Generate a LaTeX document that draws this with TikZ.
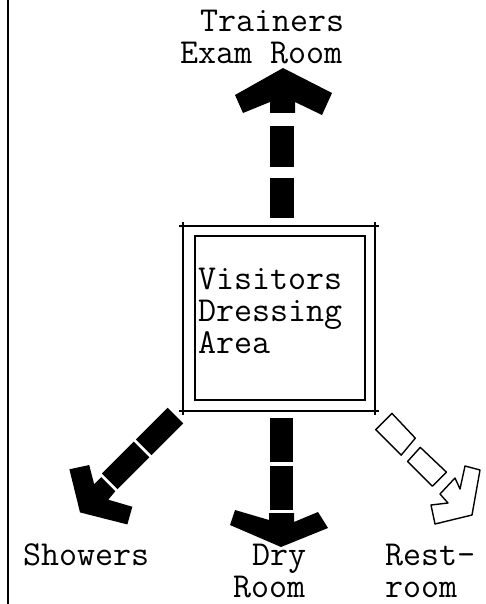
\documentclass[tikz,border=0pt]{standalone}
\usepackage{fontspec}
\begin{document}
\begin{tikzpicture}[x=1pt,y=-1pt,
  lbl/.style={font=\ttfamily\fontsize{35}{32}\selectfont, anchor=base west, inner sep=0pt, outer sep=0pt},
  solidarrow/.style={fill=black},
  openarrow/.style={draw=black, fill=white, line width=1.4pt, line join=round},
  outerwall/.style={line width=2.6pt},
  innerwall/.style={line width=1.5pt},
  edgeline/.style={line width=2.6pt}]
\useasboundingbox (0,0) rectangle (486,604);
\fill[white] (0,0) rectangle (486,604);
% left edge line
\coordinate (lt) at (8,0);
\coordinate (lb) at (8,604);
\draw[edgeline] (lt) -- (lb);

% room box (double wall with small overshoot at corners)
\draw[outerwall] (179,226) -- (379,226);
\draw[outerwall] (179,411) -- (379,411);
\draw[outerwall] (183,222) -- (183,415);
\draw[outerwall] (375,222) -- (375,415);
\draw[innerwall] (195,236) rectangle (365,400);

% labels
\node[lbl] (tr1) at (200,32) {Trainers};
\node[lbl] (tr2) at (180,64) {Exam Room};
\node[lbl, align=left] (vd) at (198,353) {Visitors\\Dressing\\Area};
\node[lbl] (sh) at (23,565) {Showers};
\node[lbl] (dr1) at (252,565) {Dry};
\node[lbl] (dr2) at (233,597) {Room};
\node[lbl] (rr1) at (385,565) {Rest-};
\node[lbl] (rr2) at (385,597) {room};

% up arrow (to Trainers Exam Room)
\fill[solidarrow] (270,178) rectangle (294,218);
\fill[solidarrow] (270,126) rectangle (294,167);
\fill[solidarrow] (283,68) -- (332,93) -- (322,115) -- (295,102) -- (295,113)
  -- (270,113) -- (270,102) -- (243,113) -- (235,95) -- cycle;

% down arrow (to Dry Room)
\fill[solidarrow] (270,418) rectangle (293,462);
\fill[solidarrow] (270,466) rectangle (293,510);
\fill[solidarrow] (269,513) -- (294,513) -- (294,522) -- (318,512) -- (328,528)
  -- (281,547) -- (230,525) -- (235,510) -- (269,520) -- cycle;

% down-left arrow (to Showers)
\begin{scope}[shift={(179,412)}, x={(0.7071pt,-0.7071pt)}, y={(-0.7071pt,-0.7071pt)}]
  \fill[solidarrow] (-11,5) -- (11,5) -- (11,50) -- (-11,50) -- cycle;
  \fill[solidarrow] (-11,53) -- (11,53) -- (11,98) -- (-11,98) -- cycle;
  \fill[solidarrow] (-9,101) -- (11,101) -- (12,112) -- (34,100) -- (43,116)
    -- (1,141) -- (-37,118) -- (-26,101) -- (-9,111) -- cycle;
\end{scope}

% down-right open arrow (to Restroom)
\begin{scope}[shift={(375,412)}, x={(0.7071pt,0.7071pt)}, y={(0.7071pt,-0.7071pt)}]
  \draw[openarrow] (-12,13) -- (11,13) -- (10,47) -- (-12,49) -- cycle;
  \draw[openarrow] (-12,58) -- (7,57) -- (8,93) -- (-12,93) -- cycle;
\end{scope}
\draw[openarrow] (465,466) -- (480,470) -- (472,515) -- (435,524) -- (431,505)
  -- (448,503) -- (440,494) -- (455,478) -- (460,489) -- cycle;
\end{tikzpicture}
\end{document}
